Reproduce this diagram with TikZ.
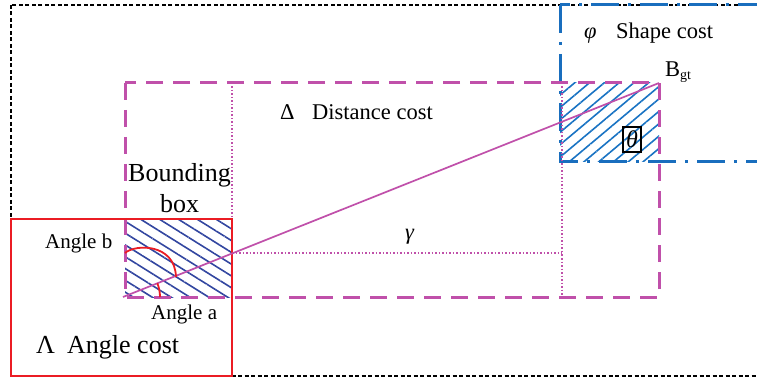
\documentclass[tikz,border=0pt]{standalone}
\usepackage{fontspec}
\setmainfont{Liberation Serif}
\usetikzlibrary{patterns.meta}
\definecolor{mag}{RGB}{192,80,170}
\definecolor{bluedd}{RGB}{25,110,190}
\definecolor{hatchA}{RGB}{50,70,160}
\definecolor{hatchB}{RGB}{25,115,195}
\definecolor{redbox}{RGB}{235,28,36}
\tikzset{
  blackdot/.style={line width=2.2pt, dash pattern=on 4pt off 2.5pt, black},
  bluedash/.style={line width=3pt, bluedd, dash pattern=on 28pt off 9pt on 3pt off 9pt},
  magdash/.style={line width=3pt, mag, dash pattern=on 17pt off 10pt},
  magdot/.style={line width=1.3pt, mag, dash pattern=on 1.5pt off 2pt},
  redline/.style={line width=2.8pt, redbox},
  lbl/.style={anchor=base west, inner sep=0pt},
  fA/.style={font=\fontsize{22.5}{27}\selectfont},
  fB/.style={font=\fontsize{26}{30}\selectfont},
  fC/.style={font=\fontsize{21}{25}\selectfont},
}
\begin{document}
\begin{tikzpicture}[x=1pt,y=-1pt]
\useasboundingbox (0,0) rectangle (757,379);
\clip (0,0) rectangle (757,379);
% corners
\coordinate (o1) at (11,5);
\coordinate (o2) at (780,376);
\coordinate (s1) at (560,5);
\coordinate (s2) at (800,162);
\coordinate (d1) at (125,83);
\coordinate (d2) at (659,297);
\coordinate (b1) at (125,219);
\coordinate (b2) at (232,297);
\coordinate (g1) at (560,83);
\coordinate (g2) at (659,162);
\coordinate (r1) at (11,219);
\coordinate (r2) at (232,376);
\coordinate (lstart) at (123,297);
\coordinate (lend) at (659,83);
% hatching
\fill[pattern={Lines[angle=-32,distance=10pt,line width=1.6pt]}, pattern color=hatchA] (b1) rectangle (b2);
\fill[pattern={Lines[angle=40,distance=9.5pt,line width=1.6pt]}, pattern color=hatchB] (g1) rectangle (g2);
% outer black dotted frame
\draw[blackdot] (o1) rectangle (o2);
% shape cost frame
\draw[bluedash] (s1) rectangle (s2);
% dotted guides
\draw[magdot] (232,83) -- (232,219);
\draw[magdot] (562,83) -- (562,297);
\draw[magdot] (232,253) -- (562,253);
% distance frame
\draw[magdash] (d1) rectangle (d2);
% red angle box
\draw[redline] (r1) rectangle (r2);
% diagonal
\draw[mag, line width=1.7pt] (lstart) -- (lend);
% arcs
\draw[redbox, line width=1.8pt] (125,253) .. controls (135,244) and (175,243) .. (176,277);
\draw[redbox, line width=1.8pt] (160,297) arc[start angle=0, end angle=-21.8, radius=37];
% texts
\node[lbl, fA] (phi) at (584,39) {\textit{φ}};
\node[lbl, fA] (shape) at (616,39) {Shape cost};
\node[lbl, fA] (delta) at (280,120) {Δ};
\node[lbl, fA] (dist) at (312,120) {Distance cost};
\node[lbl, fB] (bound) at (128,182) {Bounding};
\node[lbl, fB] (box) at (160,213) {box};
\node[lbl, fC] (angb) at (45,248) {Angle b};
\node[lbl, fC] (anga) at (151,319) {Angle a};
\node[lbl, fB] (lam) at (36,353) {Λ};
\node[lbl, fB] (angc) at (67,353) {Angle cost};
\node[lbl, fA] (gam) at (405,240) {\textit{γ}};
\node[lbl, fA] (bgt) at (665,77) {B\raisebox{-3pt}{\fontsize{14}{16}\selectfont gt}};
\node[draw, line width=1.5pt, minimum width=18pt, minimum height=25pt, inner sep=0pt, font=\fontsize{24}{28}\selectfont] (theta) at (632,139.5) {\textit{θ}};
\end{tikzpicture}
\end{document}
